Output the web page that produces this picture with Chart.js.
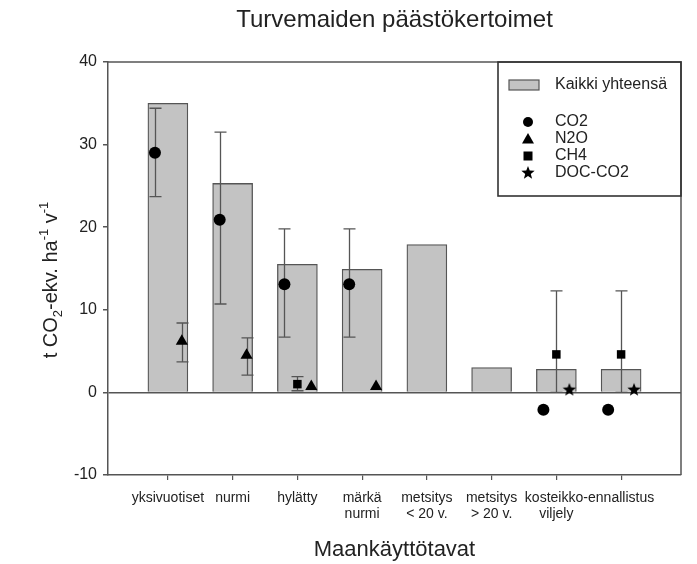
<!DOCTYPE html>
<html>
<head>
<meta charset="utf-8">
<script src="https://cdn.jsdelivr.net/npm/chart.js@4/dist/chart.umd.min.js"></script>
<style>
  html, body { margin:0; background:#fff; }
  #wrap { width:697px; height:564px; }
</style>
</head>
<body>
<div id="wrap"><canvas id="chart"></canvas></div>
<script>
// --- data ---
const categories = ['yksivuotiset', 'nurmi', 'hylätty', ['märkä', 'nurmi'], ['metsitys', '< 20 v.'], ['metsitys', '> 20 v.'], ['kosteikko-', 'viljely'], 'ennallistus'];
const yTicks = [-10, 0, 10, 20, 30, 40];

const totals = [35.0, 25.3, 15.5, 14.9, 17.9, 3.0, 2.8, 2.8];

const co2    = [29.0, 20.9, 13.1, 13.1, null, null, -2.1, -2.1];
const co2Lo  = [23.7, 10.7,  6.7,  6.7, null, null, null, null];
const co2Hi  = [34.4, 31.5, 19.8, 19.8, null, null, null, null];

const n2o    = [6.2, 4.5, 0.7, 0.7, null, null, null, null];
const n2oLo  = [3.7, 2.1, null, null, null, null, null, null];
const n2oHi  = [8.4, 6.6, null, null, null, null, null, null];

const ch4    = [null, null, 1.0, null, null, null, 4.6, 4.6];
const ch4Lo  = [null, null, 0.2, null, null, null, 0.0, 0.0];
const ch4Hi  = [null, null, 1.9, null, null, null, 12.3, 12.3];

const docCo2 = [null, null, null, null, null, null, 0.3, 0.3];

const FONT = "'Liberation Sans', Arial, sans-serif";
const INK = '#222';
const LINE = '#555';

// filled five-point star, used as point style
function starCanvas(r){
  const s = Math.ceil(r*2) + 2;
  const cv = document.createElement('canvas');
  cv.width = cv.height = s;
  const g = cv.getContext('2d');
  g.fillStyle = '#000';
  g.beginPath();
  for(let i=0;i<10;i++){
    const rad = i%2 ? r*0.42 : r;
    const a = -Math.PI/2 + i*Math.PI/5;
    g.lineTo(s/2 + rad*Math.cos(a), s/2 + rad*Math.sin(a));
  }
  g.closePath(); g.fill();
  return cv;
}
const starImg = starCanvas(7);

const pts = (vals, dx) => vals.map((v,i)=> v==null ? null : {x:i+dx, y:v}).filter(Boolean);

function marker(id){
  return { type:'scatter', order:0, pointRadius:6, pointHoverRadius:6,
    backgroundColor:'#000', borderColor:'#000', borderWidth:0, ...id };
}

const errorBars = {
  id:'errorBars',
  afterDatasetDraw(chart, args){
    if(args.index !== 0) return; // right after the bars, below the markers
    const {ctx, scales:{x, y}} = chart;
    ctx.save();
    ctx.strokeStyle = LINE; ctx.lineWidth = 1.3;
    chart.data.datasets.forEach(ds=>{
      if(!ds.errLo) return;
      ds.errLo.forEach((lo,i)=>{
        const hi = ds.errHi[i];
        if(lo==null || hi==null) return;
        const px = Math.round(x.getPixelForValue(i + ds.dx)) + 0.5;
        const y1 = y.getPixelForValue(lo), y2 = y.getPixelForValue(hi);
        ctx.beginPath();
        ctx.moveTo(px, y1); ctx.lineTo(px, y2);
        ctx.moveTo(px-6, y1); ctx.lineTo(px+6, y1);
        ctx.moveTo(px-6, y2); ctx.lineTo(px+6, y2);
        ctx.stroke();
      });
    });
    ctx.restore();
  }
};

function drawPointShape(ctx, style, x, y){
  ctx.fillStyle = '#000';
  if(style === 'circle'){ ctx.beginPath(); ctx.arc(x, y, 5, 0, Math.PI*2); ctx.fill(); }
  else if(style === 'triangle'){ ctx.beginPath(); ctx.moveTo(x, y-6); ctx.lineTo(x+6, y+4.5); ctx.lineTo(x-6, y+4.5); ctx.closePath(); ctx.fill(); }
  else if(style === 'rect'){ ctx.fillRect(x-4.5, y-4.5, 9, 9); }
  else { ctx.drawImage(style, x - style.width/2, y - style.height/2); }
}

const decor = {
  id:'decor',
  afterDraw(chart){
    const {ctx, chartArea:a} = chart;
    ctx.save();
    // frame top + right
    ctx.strokeStyle = LINE; ctx.lineWidth = 1.5;
    ctx.beginPath();
    ctx.moveTo(a.left, a.top); ctx.lineTo(a.right, a.top); ctx.lineTo(a.right, a.bottom);
    ctx.stroke();

    // title, centred over the plot area
    ctx.font = `24px ${FONT}`; ctx.fillStyle = INK; ctx.textAlign = 'center'; ctx.textBaseline = 'alphabetic';
    ctx.fillText('Turvemaiden päästökertoimet', (a.left + a.right)/2, 27);

    // legend box
    const lx = 498, ly = a.top, lw = a.right - 498, lh = 134;
    ctx.strokeStyle = '#333'; ctx.lineWidth = 1.6;
    ctx.strokeRect(lx, ly, lw, lh);
    const ds = chart.data.datasets;
    ctx.font = `16px ${FONT}`; ctx.textBaseline = 'middle'; ctx.textAlign = 'left';
    ctx.fillStyle = ds[0].backgroundColor; ctx.fillRect(509, 80, 30, 10);
    ctx.strokeStyle = LINE; ctx.lineWidth = 1.2; ctx.strokeRect(509, 80, 30, 10);
    ctx.fillStyle = INK; ctx.fillText(ds[0].label, 555, 85);
    const rows = [122, 139, 156, 173];
    ds.slice(1).forEach((d, k)=>{
      drawPointShape(ctx, d.pointStyle, 528, rows[k]);
      ctx.fillStyle = INK; ctx.fillText(d.label, 555, rows[k]);
    });

    // x axis title
    ctx.font = `22px ${FONT}`; ctx.fillStyle = INK; ctx.textAlign = 'center'; ctx.textBaseline = 'alphabetic';
    ctx.fillText('Maankäyttötavat', (a.left + a.right)/2, 556);

    // y axis title with sub/superscripts
    const parts = [['t CO',0],['2',1],['-ekv. ha',0],['-1',-1],[' v',0],['-1',-1]];
    const fontOf = p => p[1] ? `13px ${FONT}` : `20px ${FONT}`;
    let w = 0;
    parts.forEach(p=>{ ctx.font = fontOf(p); w += ctx.measureText(p[0]).width; });
    ctx.translate(57, 280); ctx.rotate(-Math.PI/2);
    ctx.textAlign = 'left';
    let cx = -w/2;
    parts.forEach(p=>{
      ctx.font = fontOf(p);
      const dy = p[1] === 1 ? 5 : p[1] === -1 ? -9 : 0;
      ctx.fillText(p[0], cx, dy);
      cx += ctx.measureText(p[0]).width;
    });
    ctx.restore();
  }
};

new Chart(document.getElementById('chart'), {
  type:'bar',
  data:{
    datasets:[
      { label:'Kaikki yhteensä', order:5, data: totals.map((v,i)=>({x:i, y:v})),
        backgroundColor:'#c3c3c3', borderColor:LINE, borderWidth:1.3, barThickness:40, grouped:false },
      marker({ label:'CO2', pointStyle:'circle', data: pts(co2, -0.2), dx:-0.2, errLo:co2Lo, errHi:co2Hi }),
      marker({ label:'N2O', pointStyle:'triangle', pointRadius:7, data: pts(n2o, 0.215), dx:0.215, errLo:n2oLo, errHi:n2oHi }),
      marker({ label:'CH4', pointStyle:'rect', pointRadius:6, data: pts(ch4, 0), dx:0, errLo:ch4Lo, errHi:ch4Hi }),
      marker({ label:'DOC-CO2', pointStyle:starImg, data: pts(docCo2, 0.2), dx:0.2 })
    ]
  },
  options:{
    responsive:true, maintainAspectRatio:false, animation:false,
    layout:{ padding:{ left:0, right:16, top:62, bottom:0 } },
    plugins:{
      legend:{ display:false },
      tooltip:{ enabled:false },
      title:{ display:false }
    },
    scales:{
      x:{
        type:'linear', min:-0.925, max:7.925, offset:false,
        afterBuildTicks: s => { s.ticks = categories.map((_, i)=>({ value:i })); },
        ticks:{ callback: v => categories[v], autoSkip:false, maxRotation:0, color:INK,
          font:{ family:FONT, size:14, lineHeight:1.15 }, padding:10 },
        grid:{ offset:false, drawOnChartArea:false, tickLength:5, color:LINE, lineWidth:1.2 },
        border:{ color:LINE, width:1.5 },
        afterFit: s => { s.height = 89; }
      },
      y:{
        min:-10, max:40,
        afterBuildTicks: s => { s.ticks = yTicks.map(v=>({ value:v })); },
        ticks:{ color:INK, font:{ family:FONT, size:16 }, padding:6 },
        grid:{ color: c => (c.tick && c.tick.value === 0) ? LINE : 'rgba(0,0,0,0)',
          tickColor:LINE, tickLength:5, lineWidth:1.5 },
        border:{ color:LINE, width:1.5 },
        afterFit: s => { s.width = 108; }
      }
    }
  },
  plugins:[errorBars, decor]
});
</script>
</body>
</html>
